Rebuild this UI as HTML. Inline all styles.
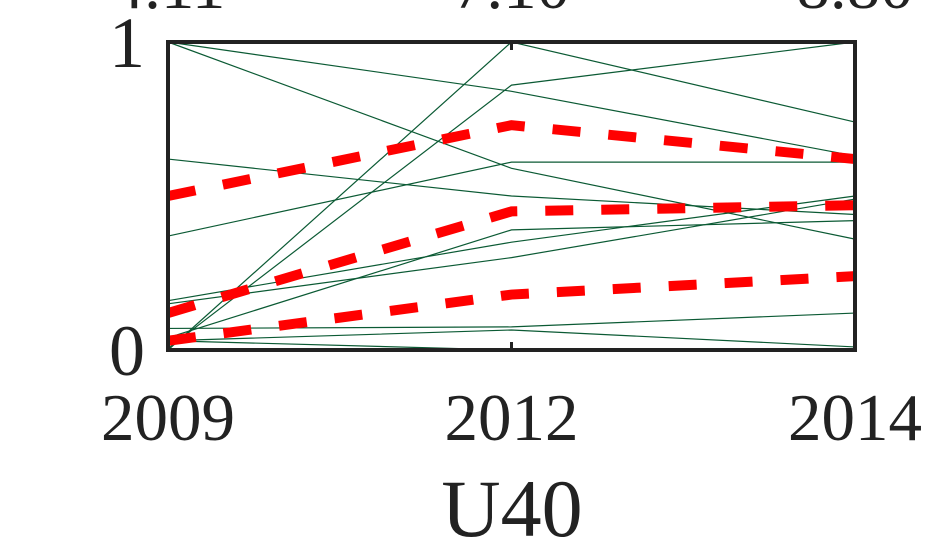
<!DOCTYPE html>
<html><head><meta charset="utf-8"><style>
html,body{margin:0;padding:0;background:#fff;width:945px;height:551px;overflow:hidden}
text{font-family:"Liberation Serif",serif;fill:#222}
</style></head><body>
<svg id="chart" width="945" height="551" viewBox="0 0 945 551"></svg>
<script>
const categories = ["2009","2012","2014"];
const topLabels = ["4.11","7.10","8.80"];
const yTicks = [0,1];
const greenSeries = [
  [1.0,0.84,0.63],
  [1.0,0.59,0.36],
  [0.0,1.0,0.74],
  [0.005,0.86,1.0],
  [0.62,0.5,0.44],
  [0.37,0.61,0.61],
  [0.16,0.35,0.5],
  [0.15,0.3,0.49],
  [0.04,0.39,0.42],
  [0.07,0.075,0.12],
  [0.03,0.065,0.01],
  [0.03,0.0,0.0]
];
const redSeries = [
  [0.5,0.73,0.62],
  [0.12,0.45,0.47],
  [0.03,0.18,0.24]
];
const L=168,R=855,T=42,B=350;
const svg=document.getElementById('chart');
const NS='http://www.w3.org/2000/svg';
function x(i){return L+(R-L)*i/(categories.length-1);}
function y(v){return B-(B-T)*v;}
function mk(tag,attrs){const e=document.createElementNS(NS,tag);for(const k in attrs)e.setAttribute(k,attrs[k]);svg.appendChild(e);return e;}
greenSeries.forEach((s,j)=>{
  const p=mk('polyline',{points:s.map((v,i)=>x(i)+','+y(v)).join(' '),fill:'none',stroke:'#0b5a34','stroke-width':1.2});
  
  
});
redSeries.forEach((s,j)=>{
  const p=mk('polyline',{points:s.map((v,i)=>x(i)+','+y(v)).join(' '),fill:'none',stroke:'#ff0000','stroke-width':10,'stroke-dasharray':'28,28'});
  
  
});
const frame=mk('rect',{x:L,y:T,width:R-L,height:B-T,fill:'none',stroke:'#222','stroke-width':4});


categories.forEach((c,i)=>{
  const t1=mk('line',{x1:x(i),x2:x(i),y1:B,y2:B-8,stroke:'#222','stroke-width':3});
  
  
  const t2=mk('line',{x1:x(i),x2:x(i),y1:T,y2:T+8,stroke:'#222','stroke-width':3});
  
  
  const lb=mk('text',{x:x(i),y:440,'font-size':67,'text-anchor':'middle'});
  lb.textContent=c;
  
  
  const tl=mk('text',{x:x(i),y:8,'font-size':67,'text-anchor':'middle'});
  tl.textContent=topLabels[i];
  
  
});
yTicks.forEach(v=>{
  const t=mk('text',{x:145,y:y(v)+25,'font-size':72,'text-anchor':'end'});
  t.textContent=String(v);
  
  
});
const xt=mk('text',{x:512,y:536,'font-size':82,'text-anchor':'middle'});
xt.textContent='U40';


</script>
</body></html>
